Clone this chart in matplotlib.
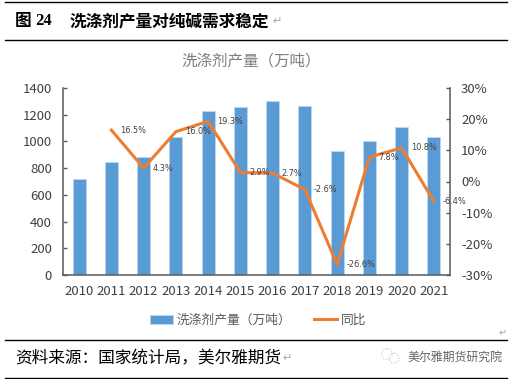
import matplotlib
matplotlib.use('Agg')
from matplotlib import pyplot
from matplotlib.patches import Circle
import numpy as np

pyplot.rcParams['font.family'] = ['Noto Sans CJK SC', 'DejaVu Sans']

years = ['2010', '2011', '2012', '2013', '2014', '2015', '2016', '2017', '2018', '2019', '2020', '2021']
output = [720, 845, 885, 1030, 1230, 1260, 1300, 1265, 930, 1000, 1105, 1035]
growth = [None, 16.5, 4.3, 16.0, 19.3, 2.9, 2.7, -2.6, -26.6, 7.8, 10.8, -6.4]
left_ticks = [0, 200, 400, 600, 800, 1000, 1200, 1400]
right_ticks = [-30, -20, -10, 0, 10, 20, 30]

W, H = 519, 379
fig = pyplot.figure(figsize=(W / 100, H / 100), dpi=100)
ax1 = fig.add_axes([63 / W, 1 - 275 / H, (450 - 63) / W, (275 - 88) / H])

x = np.arange(len(years))
ax1.bar(x, output, width=0.4, color='#5B9BD5', edgecolor='#BDD7EE', linewidth=0.6, label='洗涤剂产量（万吨）')
ax1.set_xlim(-0.5, 11.5)
ax1.set_ylim(0, 1400)
ax1.set_yticks(left_ticks)
ax1.set_xticks(x)
ax1.set_xticklabels(years)

ax2 = ax1.twinx()
ax2.plot(x[1:], growth[1:], color='#ED7D31', linewidth=2.2, label='同比')
ax2.set_ylim(-30, 30)
ax2.set_yticks(right_ticks)
ax2.set_yticklabels(['%d%%' % v for v in right_ticks])

for ax in (ax1, ax2):
    ax.spines['top'].set_visible(False)
    ax.tick_params(axis='y', labelsize=9.5, labelcolor='#404040', color='#595959', width=1, length=3, direction='in', pad=8)
    ax.tick_params(axis='x', labelsize=9.5, labelcolor='#404040', length=0, pad=7)
    for side in ('left', 'right', 'bottom'):
        ax.spines[side].set_color('#595959')
        ax.spines[side].set_linewidth(1.1)
ax1.spines['right'].set_visible(False)
ax2.spines['left'].set_visible(False)
ax2.spines['bottom'].set_visible(False)

for i, v in enumerate(growth):
    if v is None:
        continue
    ax2.annotate('%.1f%%' % v, (x[i], v), xytext=(6.5, 0), textcoords='offset points',
                 fontsize=5.9, color='#404040', va='center', ha='left', family='DejaVu Sans')

handles = ax1.get_legend_handles_labels()[0] + ax2.get_legend_handles_labels()[0]
labels = ax1.get_legend_handles_labels()[1] + ax2.get_legend_handles_labels()[1]
fig.legend(handles, labels, loc='center', bbox_to_anchor=(258 / W, 1 - 320 / H), ncol=2, frameon=False,
           fontsize=9.2, labelcolor='#595959', handlelength=1.8, handletextpad=0.3, columnspacing=1.8,
           borderpad=0)

fig.text(251 / W, 1 - 61 / H, '洗涤剂产量（万吨）', fontsize=11.2, color='#7f7f7f', ha='center', va='center')

# report frame around the chart
for y in (2, 40, 340, 378):
    fig.add_artist(pyplot.Line2D([5 / W, 507 / W], [1 - y / H, 1 - y / H], color='black', linewidth=1))

fig.text(15 / W, 1 - 21 / H, '图', fontsize=12, fontweight='bold', color='black', va='center', family='Noto Sans CJK SC')
fig.text(35 / W, 1 - 21 / H, '24', fontsize=12, fontweight='bold', color='black', va='center', family='Liberation Serif')
fig.text(70 / W, 1 - 21 / H, '洗涤剂产量对纯碱需求稳定', fontsize=12, fontweight='bold', color='black', va='center', family='Noto Sans CJK SC')
fig.text(15 / W, 1 - 359 / H, '资料来源：国家统计局，美尔雅期货', fontsize=12, color='black', va='center')
fig.text(407 / W, 1 - 357 / H, '美尔雅期货研究院', fontsize=8.6, color='#666666', va='center')

# return marks from the document, and the watermark icon
for px, py, size in [(277, 21, 8), (287, 358, 8), (503, 333, 7)]:
    fig.text(px / W, 1 - py / H, '↵', fontsize=size, color='#a6a6a6', ha='center', va='center', family='DejaVu Sans')

overlay = fig.add_axes([0, 0, 1, 1], facecolor='none')
overlay.set_xlim(0, W)
overlay.set_ylim(H, 0)
overlay.axis('off')
overlay.add_patch(Circle((387, 354), 5.5, fill=False, edgecolor='#bbbbbb', linewidth=0.7, linestyle=':'))
overlay.add_patch(Circle((394, 358), 5, fill=False, edgecolor='#bbbbbb', linewidth=0.7, linestyle=':'))

pyplot.savefig('out.png', dpi=100)
